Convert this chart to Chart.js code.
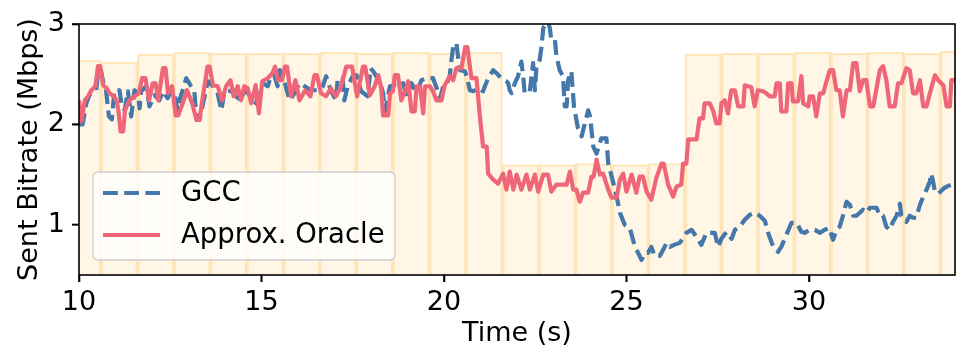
<!DOCTYPE html>
<html>
<head>
<meta charset="utf-8">
<script src="https://cdn.jsdelivr.net/npm/chart.js@4/dist/chart.umd.min.js"></script>
<style>
  html, body { margin: 0; padding: 0; background: #ffffff; }
  #wrap { width: 969px; height: 364px; position: relative; }
</style>
</head>
<body>
<div id="wrap"><canvas id="c" width="969" height="364"></canvas></div>
<script>
// ---- data ----
const xTicks = [10, 15, 20, 25, 30];
const yTicks = [1, 2, 3];

// background capacity bars: interval start (s) and height (Mbps), 1 s wide
const capacityStart = [9.6, 10.6, 11.6, 12.6, 13.6, 14.6, 15.6, 16.6, 17.6, 18.6, 19.6, 20.6,
  21.6, 22.6, 23.6, 24.6, 25.6, 26.6, 27.6, 28.6, 29.6, 30.6, 31.6, 32.6, 33.6];
const capacityMbps = [2.64, 2.62, 2.70, 2.72, 2.71, 2.71, 2.71, 2.72, 2.71, 2.72, 2.71, 2.72,
  1.60, 1.60, 1.61, 1.60, 1.61, 2.70, 2.71, 2.71, 2.72, 2.71, 2.72, 2.71, 2.73];

const gccTime = [10.00,10.1,10.2,10.3,10.38,10.47,10.53,10.6,10.67,10.74,10.82,10.9,10.97,11.11,11.16,11.25,11.34,11.43,11.52,11.62,11.66,11.7,11.84,11.93,12.07,12.2,12.3,12.43,12.52,12.62,12.7,12.75,12.84,12.94,13.07,13.16,13.22,13.3,13.4,13.53,13.67,13.8,13.9,13.99,14.17,14.3,14.44,14.53,14.72,14.85,14.94,15.03,15.17,15.26,15.35,15.44,15.5,15.58,15.77,15.9,16.04,16.18,16.36,16.54,16.68,16.77,16.9,17.04,17.09,17.22,17.27,17.36,17.5,17.6,17.73,17.91,17.99,18.1,18.2,18.28,18.33,18.38,18.52,18.65,18.74,18.88,18.97,19.11,19.25,19.38,19.52,19.7,19.8,19.89,19.98,20.07,20.16,20.2,20.25,20.34,20.39,20.44,20.57,20.62,20.71,20.8,20.94,21.07,21.12,21.21,21.35,21.44,21.57,21.71,21.76,21.8,21.85,21.94,22.03,22.12,22.17,22.21,22.35,22.44,22.49,22.53,22.62,22.67,22.72,22.85,22.9,22.94,23.04,23.08,23.17,23.26,23.31,23.36,23.4,23.49,23.56,23.67,23.77,23.95,24.0,24.09,24.18,24.31,24.45,24.5,24.63,24.73,24.82,24.95,25.09,25.23,25.32,25.41,25.5,25.59,25.68,25.77,25.91,26.0,26.1,26.19,26.3,26.46,26.64,26.78,26.92,27.05,27.19,27.42,27.51,27.6,27.74,27.88,27.97,28.1,28.24,28.38,28.52,28.65,28.79,28.88,29.02,29.15,29.24,29.38,29.52,29.66,29.79,29.88,30.02,30.16,30.3,30.43,30.55,30.66,30.75,30.84,30.93,31.03,31.12,31.21,31.3,31.39,31.48,31.57,31.67,31.85,31.94,32.03,32.12,32.21,32.3,32.4,32.49,32.53,32.67,32.76,32.85,32.94,33.04,33.13,33.22,33.31,33.35,33.4,33.45,33.54,33.68,33.77,33.9,34.0];
const gccMbps = [2.0,2.0,2.21,2.30,2.32,2.34,2.54,2.54,2.41,2.34,2.08,2.05,2.34,2.34,2.21,2.14,2.33,2.08,2.34,2.30,2.16,2.33,2.38,2.18,2.29,2.24,2.33,2.26,2.34,2.30,2.14,2.24,2.34,2.46,2.38,2.33,2.045,2.045,2.21,2.43,2.38,2.31,2.14,2.34,2.33,2.28,2.24,2.34,2.28,2.21,2.33,2.41,2.38,2.48,2.49,2.38,2.54,2.49,2.24,2.31,2.41,2.38,2.34,2.34,2.38,2.48,2.34,2.24,2.46,2.46,2.24,2.38,2.48,2.49,2.33,2.28,2.56,2.51,2.44,2.38,2.31,2.13,2.38,2.39,2.38,2.41,2.28,2.41,2.31,2.44,2.46,2.46,2.36,2.26,2.38,2.39,2.49,2.63,2.77,2.81,2.66,2.54,2.53,2.48,2.34,2.33,2.36,2.33,2.38,2.46,2.54,2.51,2.46,2.43,2.41,2.34,2.31,2.41,2.48,2.625,2.48,2.31,2.33,2.61,2.34,2.56,2.64,2.77,2.96,3.02,2.96,2.84,2.84,2.68,2.54,2.48,2.18,2.18,2.44,2.53,2.18,1.96,1.88,2.14,2.08,1.78,1.71,1.86,1.86,1.61,1.43,1.28,1.12,1.0,0.97,0.78,0.72,0.65,0.72,0.72,0.78,0.69,0.69,0.75,0.82,0.78,0.80,0.82,0.92,0.95,0.88,0.80,0.92,0.92,0.78,0.86,0.93,0.86,0.95,0.98,1.05,1.10,1.12,1.09,1.04,0.92,0.78,0.73,0.78,0.90,1.02,1.02,0.93,0.92,0.95,0.95,0.92,0.95,0.97,0.85,0.95,0.98,1.09,1.23,1.20,1.09,1.09,1.12,1.15,1.12,1.17,1.17,1.09,1.09,0.98,0.95,1.03,1.09,1.21,1.09,1.03,1.09,1.07,1.07,1.20,1.28,1.35,1.43,1.51,1.43,1.33,1.31,1.36,1.38,1.40,1.40];

const oracleTime = [10.00,10.07,10.16,10.25,10.34,10.45,10.52,10.58,10.66,10.76,10.84,10.95,11.03,11.08,11.14,11.21,11.26,11.38,11.52,11.64,11.73,11.82,11.92,12.02,12.1,12.17,12.3,12.37,12.44,12.55,12.65,12.72,12.84,12.96,13.1,13.22,13.3,13.42,13.52,13.58,13.67,13.8,13.92,14.03,14.15,14.24,14.35,14.44,14.53,14.62,14.72,14.84,14.93,15.02,15.17,15.3,15.37,15.45,15.56,15.64,15.7,15.81,15.93,16.04,16.2,16.34,16.45,16.52,16.63,16.77,16.9,17.04,17.18,17.32,17.48,17.62,17.78,17.84,17.97,18.1,18.2,18.28,18.33,18.47,18.52,18.6,18.65,18.74,18.83,18.93,19.02,19.06,19.11,19.2,19.25,19.34,19.43,19.48,19.61,19.7,19.79,19.93,20.02,20.16,20.25,20.34,20.48,20.58,20.64,20.75,20.89,20.98,21.07,21.17,21.21,21.35,21.48,21.62,21.71,21.8,21.9,21.99,22.12,22.26,22.35,22.49,22.58,22.72,22.85,22.94,23.08,23.36,23.45,23.54,23.63,23.72,23.81,23.95,24.04,24.1,24.18,24.27,24.36,24.5,24.59,24.73,24.82,24.91,25.0,25.14,25.27,25.36,25.45,25.55,25.68,25.82,25.96,26.02,26.14,26.28,26.37,26.5,26.55,26.64,26.69,26.92,27.0,27.1,27.14,27.28,27.37,27.46,27.55,27.6,27.69,27.78,27.87,27.97,28.06,28.2,28.24,28.42,28.51,28.6,28.74,28.83,28.93,29.06,29.11,29.2,29.24,29.38,29.43,29.52,29.56,29.7,29.79,29.84,29.98,30.02,30.11,30.2,30.3,30.39,30.48,30.57,30.66,30.75,30.84,30.93,31.03,31.12,31.21,31.3,31.39,31.48,31.57,31.67,31.76,31.85,31.94,32.03,32.12,32.21,32.35,32.44,32.53,32.67,32.76,32.85,32.94,33.04,33.13,33.22,33.35,33.45,33.54,33.68,33.77,33.86,33.9,34.0];
const oracleMbps = [2.24,2.03,2.24,2.28,2.34,2.38,2.58,2.58,2.39,2.36,2.31,2.28,2.24,2.14,1.93,1.93,2.14,2.24,2.28,2.31,2.46,2.46,2.24,2.41,2.41,2.24,2.56,2.56,2.31,2.38,2.09,2.09,2.21,2.34,2.21,2.045,2.045,2.34,2.575,2.575,2.39,2.38,2.24,2.38,2.44,2.28,2.38,2.24,2.38,2.36,2.21,2.39,2.11,2.43,2.46,2.51,2.575,2.44,2.44,2.575,2.575,2.28,2.44,2.24,2.34,2.28,2.49,2.49,2.31,2.28,2.36,2.28,2.38,2.575,2.575,2.28,2.575,2.575,2.29,2.38,2.49,2.36,2.09,2.09,2.31,2.33,2.49,2.49,2.24,2.33,2.43,2.29,2.13,2.13,2.38,2.38,2.11,2.38,2.38,2.33,2.24,2.24,2.39,2.48,2.44,2.56,2.56,2.77,2.77,2.46,2.46,2.09,1.78,1.78,1.51,1.45,1.41,1.51,1.35,1.53,1.35,1.50,1.35,1.50,1.35,1.50,1.33,1.50,1.50,1.33,1.40,1.40,1.53,1.35,1.35,1.23,1.32,1.32,1.48,1.48,1.65,1.50,1.51,1.35,1.27,1.27,1.45,1.51,1.33,1.50,1.32,1.48,1.48,1.33,1.25,1.47,1.61,1.61,1.40,1.28,1.38,1.40,1.61,1.61,1.85,1.85,2.06,2.06,2.21,2.21,2.14,2.01,2.01,2.21,2.24,2.11,2.34,2.34,2.18,2.18,2.39,2.37,2.18,2.34,2.33,2.31,2.28,2.28,2.41,2.41,2.13,2.13,2.41,2.41,2.23,2.23,2.48,2.21,2.18,2.28,2.28,2.08,2.31,2.31,2.43,2.54,2.54,2.34,2.34,2.08,2.34,2.34,2.61,2.61,2.33,2.44,2.44,2.18,2.18,2.36,2.54,2.58,2.44,2.18,2.18,2.41,2.41,2.56,2.54,2.31,2.31,2.44,2.18,2.18,2.36,2.49,2.44,2.39,2.18,2.18,2.44,2.44];

// ---- chart ----
const FONT = 'DejaVu Sans';
const FS = 27;
Chart.defaults.font.family = FONT;
Chart.defaults.font.size = FS;
Chart.defaults.color = '#000000';

const pairs = (xs, ys) => xs.map((x, i) => ({ x: x, y: ys[i] }));

const framePlugin = {
  id: 'frameAndLegend',
  afterDraw(chart) {
    const ctx = chart.ctx;
    const a = chart.chartArea;
    const xs = chart.scales.x, ys = chart.scales.y;
    ctx.save();
    // axes frame
    ctx.strokeStyle = '#000000';
    ctx.lineWidth = 1.6;
    ctx.strokeRect(a.left, a.top, a.right - a.left, a.bottom - a.top);
    // outward tick marks at the scale's tick values
    ctx.beginPath();
    xTicks.forEach(v => {
      const px = xs.getPixelForValue(v);
      ctx.moveTo(px, a.bottom);
      ctx.lineTo(px, a.bottom + 7);
    });
    yTicks.forEach(v => {
      const py = ys.getPixelForValue(v);
      ctx.moveTo(a.left, py);
      ctx.lineTo(a.left - 7, py);
    });
    ctx.stroke();

    // legend box (inside plot, lower left)
    const bx = 93, by = 172, bw = 302, bh = 88, r = 5;
    ctx.beginPath();
    ctx.moveTo(bx + r, by);
    ctx.lineTo(bx + bw - r, by);
    ctx.arcTo(bx + bw, by, bx + bw, by + r, r);
    ctx.lineTo(bx + bw, by + bh - r);
    ctx.arcTo(bx + bw, by + bh, bx + bw - r, by + bh, r);
    ctx.lineTo(bx + r, by + bh);
    ctx.arcTo(bx, by + bh, bx, by + bh - r, r);
    ctx.lineTo(bx, by + r);
    ctx.arcTo(bx, by, bx + r, by, r);
    ctx.closePath();
    ctx.fillStyle = 'rgba(255,255,255,0.8)';
    ctx.fill();
    ctx.strokeStyle = '#d0d0d0';
    ctx.lineWidth = 1.3;
    ctx.stroke();

    const items = chart.data.datasets.filter(d => d.type === 'line');
    const rows = [193, 235];
    items.forEach((d, i) => {
      const y = rows[i];
      ctx.beginPath();
      ctx.setLineDash(d.borderDash || []);
      ctx.lineDashOffset = 0;
      ctx.strokeStyle = d.borderColor;
      ctx.lineWidth = d.borderWidth;
      ctx.lineCap = 'butt';
      ctx.moveTo(103, y);
      ctx.lineTo(160, y);
      ctx.stroke();
      ctx.setLineDash([]);
      ctx.fillStyle = '#000000';
      ctx.font = '27.5px "' + FONT + '"';
      ctx.textAlign = 'left';
      ctx.textBaseline = 'middle';
      ctx.fillText(d.label, 181, y + 1);
    });
    ctx.restore();
  }
};

new Chart(document.getElementById('c'), {
  type: 'line',
  data: {
    datasets: [
      {
        type: 'line',
        label: 'GCC',
        data: pairs(gccTime, gccMbps),
        borderColor: '#4477AA',
        borderWidth: 4.2,
        borderDash: [14.8, 6.4],
        borderCapStyle: 'butt',
        borderJoinStyle: 'round',
        pointRadius: 0,
        tension: 0,
        fill: false,
        order: 2
      },
      {
        type: 'line',
        label: 'Approx. Oracle',
        data: pairs(oracleTime, oracleMbps),
        borderColor: '#EE6677',
        borderWidth: 4.2,
        borderCapStyle: 'butt',
        borderJoinStyle: 'round',
        pointRadius: 0,
        tension: 0,
        fill: false,
        order: 1
      },
      {
        type: 'bar',
        label: 'Capacity',
        data: pairs(capacityStart.map(s => s + 0.5), capacityMbps),
        backgroundColor: 'rgba(255,165,0,0.1)',
        borderColor: 'rgba(255,190,80,0.35)',
        borderWidth: 1.5,
        borderSkipped: false,
        barPercentage: 1.0,
        categoryPercentage: 1.0,
        clip: 0,
        order: 3
      }
    ]
  },
  options: {
    responsive: false,
    animation: false,
    devicePixelRatio: 1,
    layout: { padding: { left: 0, right: 14, top: 24, bottom: 0 } },
    plugins: {
      legend: { display: false },
      tooltip: { enabled: false },
      title: { display: false }
    },
    scales: {
      x: {
        type: 'linear',
        min: 10,
        max: 34,
        offset: false,
        afterBuildTicks: (s) => { s.ticks = xTicks.map(v => ({ value: v })); },
        afterFit: (s) => { s.height = 89; },
        grid: { display: true, offset: false, drawOnChartArea: false, drawTicks: true, tickLength: 7, tickWidth: 1.6, tickColor: '#000000' },
        border: { display: false },
        ticks: { padding: 5, color: '#000000', font: { size: FS }, maxRotation: 0, autoSkip: false },
        title: { display: true, text: 'Time (s)', color: '#000000', font: { size: FS }, padding: { top: 0, bottom: 14 } }
      },
      y: {
        type: 'linear',
        min: 0.5,
        max: 3,
        afterBuildTicks: (s) => { s.ticks = yTicks.map(v => ({ value: v })); },
        afterFit: (s) => { s.width = 79; },
        grid: { display: true, offset: false, drawOnChartArea: false, drawTicks: true, tickLength: 7, tickWidth: 1.6, tickColor: '#000000' },
        border: { display: false },
        ticks: { padding: 7, color: '#000000', font: { size: FS }, autoSkip: false },
        title: { display: true, text: 'Sent Bitrate (Mbps)', color: '#000000', font: { size: FS }, padding: { top: 14, bottom: 0 } }
      }
    }
  },
  plugins: [framePlugin]
});
</script>
</body>
</html>
